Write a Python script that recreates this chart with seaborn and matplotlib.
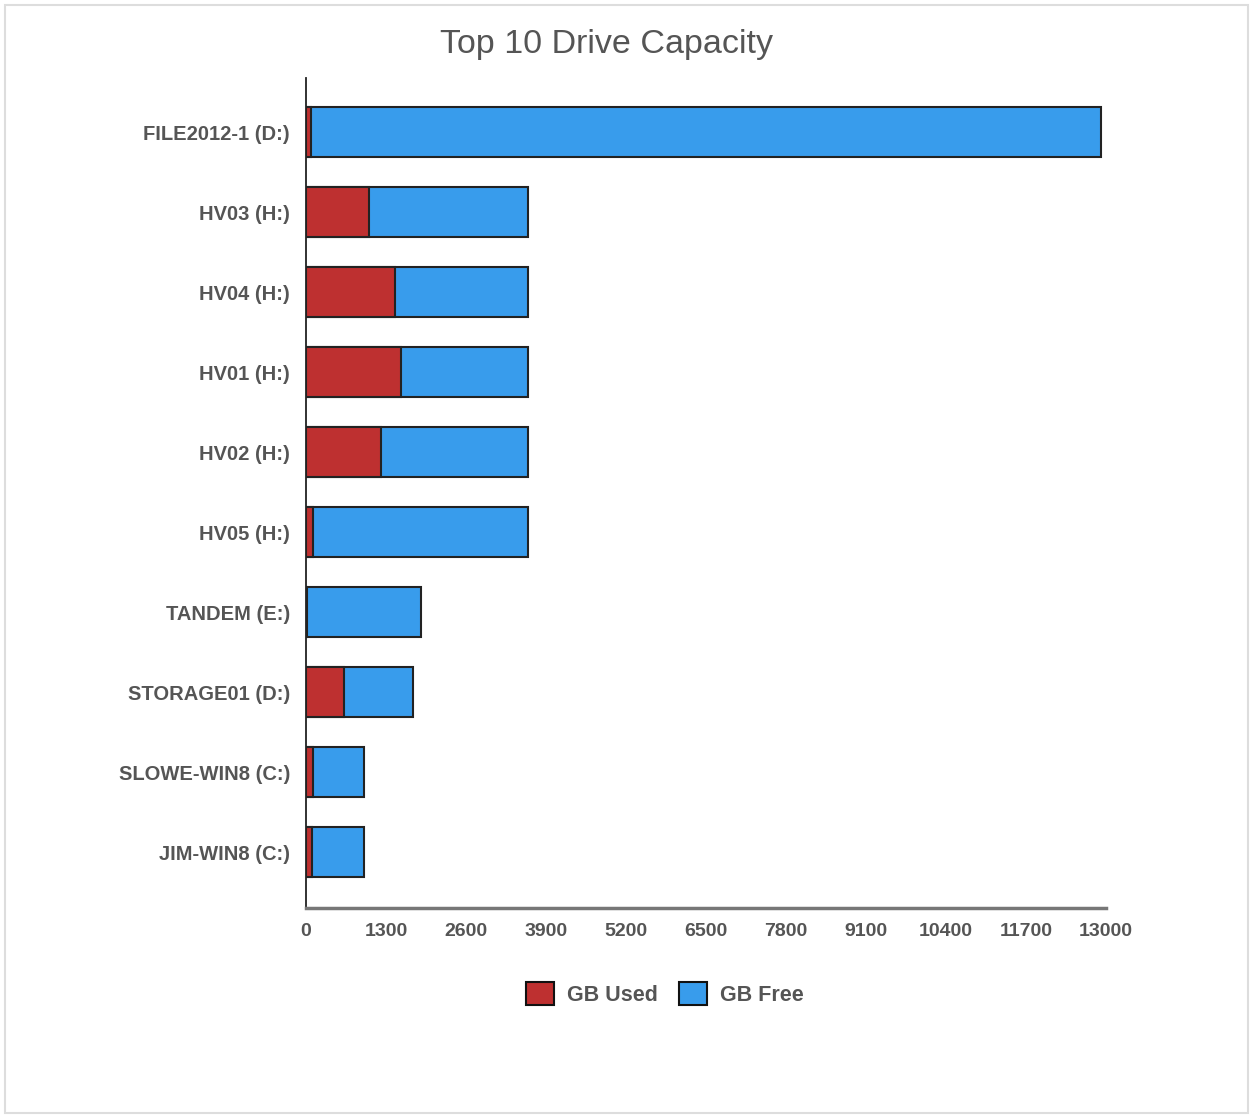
import numpy as np
import pandas as pd
import matplotlib
matplotlib.use("Agg")
import matplotlib.pyplot as plt
import seaborn as sns
from matplotlib.patches import Patch, Rectangle

# drive names, top to bottom
drives = ["FILE2012-1 (D:)", "HV03 (H:)", "HV04 (H:)", "HV01 (H:)", "HV02 (H:)",
          "HV05 (H:)", "TANDEM (E:)", "STORAGE01 (D:)", "SLOWE-WIN8 (C:)", "JIM-WIN8 (C:)"]
gb_used = [75, 1020, 1450, 1540, 1215, 110, 15, 620, 110, 100]
gb_free = [12845, 2585, 2155, 2065, 2390, 3495, 1855, 1125, 825, 835]
x_ticks = [0, 1300, 2600, 3900, 5200, 6500, 7800, 9100, 10400, 11700, 13000]

RED = "#BE3030"
BLUE = "#389CEC"
TEXT = "#555555"

df = pd.DataFrame({"drive": drives, "used": gb_used, "free": gb_free})
df["total"] = df["used"] + df["free"]

sns.set_theme(style="white")
plt.rcParams["font.family"] = ["Liberation Sans", "DejaVu Sans"]

fig = plt.figure(figsize=(12.51, 11.17), dpi=100)
ax = fig.add_axes([306 / 1251, 1 - 908 / 1117, 800 / 1251, 830 / 1117])

# stacked: full length in blue, used part drawn over it in red
sns.barplot(data=df, y="drive", x="total", orient="h", color=BLUE, width=0.625,
            edgecolor="#222222", linewidth=1.5, saturation=1, ax=ax)
sns.barplot(data=df, y="drive", x="used", orient="h", color=RED, width=0.625,
            edgecolor="#222222", linewidth=1.5, saturation=1, ax=ax)

ax.set_xlim(0, 13000)
ax.set_ylim(9.7, -0.675)
ax.set_xticks(x_ticks)
ax.set_xticklabels([str(t) for t in x_ticks], fontsize=14, fontweight="bold", color=TEXT)
ax.set_yticklabels(drives, fontsize=14.5, fontweight="bold", color=TEXT)
ax.tick_params(axis="x", length=0, pad=11)
ax.tick_params(axis="y", length=0, pad=11.5)
ax.set_xlabel("")
ax.set_ylabel("")

for side in ["top", "right"]:
    ax.spines[side].set_visible(False)
ax.spines["left"].set_color("#222222")
ax.spines["left"].set_linewidth(1.3)
ax.spines["bottom"].set_color("#777777")
ax.spines["bottom"].set_linewidth(2.5)

fig.text(607 / 1251, 1 - 44 / 1117, "Top 10 Drive Capacity", ha="center", va="center",
         fontsize=24.5, color=TEXT)

handles = [Patch(facecolor=RED, edgecolor="#111111", linewidth=1.5, label="GB Used"),
           Patch(facecolor=BLUE, edgecolor="#111111", linewidth=1.5, label="GB Free")]
leg = fig.legend(handles=handles, loc="center", bbox_to_anchor=(665 / 1251, 1 - 994 / 1117),
                 ncol=2, frameon=False, handlelength=1.3, handleheight=1.3,
                 handletextpad=0.6, columnspacing=1.0,
                 prop={"size": 15.5, "weight": "bold"})
for t in leg.get_texts():
    t.set_color(TEXT)

# light frame around the whole picture
fig.patches.append(Rectangle((5 / 1251, 4 / 1117), 1243 / 1251, 1108 / 1117,
                             transform=fig.transFigure, fill=False,
                             edgecolor="#dddddd", linewidth=1.5))

fig.savefig("out.png", dpi=100)
